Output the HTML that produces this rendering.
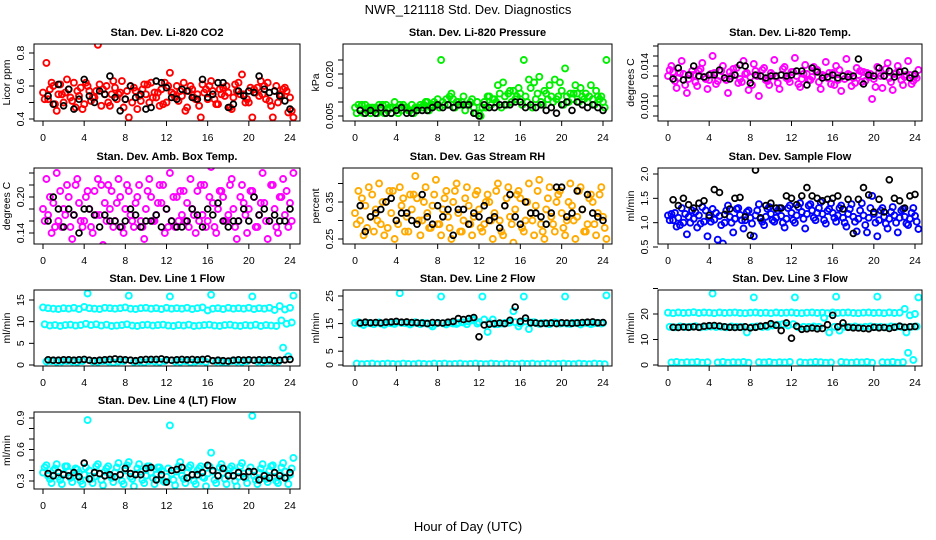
<!DOCTYPE html>
<html><head><meta charset="utf-8">
<style>
html,body{margin:0;padding:0;background:#fff;}
svg{display:block;font-family:"Liberation Sans",sans-serif;}
</style></head>
<body>
<svg id="chart" width="936" height="540" viewBox="0 0 936 540">
<text x="468" y="14" text-anchor="middle" font-size="13">NWR_121118  Std. Dev. Diagnostics</text>
<text x="468" y="531" text-anchor="middle" font-size="13">Hour of Day (UTC)</text>
</svg>
<script>
// ---- data arrays (colored series sampled every 0.5 h; three interleaved sub-series) ----
const co2A=[0.56,0.52,0.60,0.55,0.50,0.58,0.62,0.54,0.49,0.57,0.53,0.61,0.55,0.48,0.59,0.56,0.52,0.60,0.57,0.51,0.55,0.62,0.53,0.58,0.50,0.56,0.60,0.54,0.47,0.58,0.55,0.61,0.52,0.57,0.49,0.59,0.56,0.53,0.62,0.55,0.50,0.58,0.54,0.60,0.51,0.57,0.55,0.59,0.53];
const co2B=[0.52,0.58,0.49,0.61,0.56,0.53,0.47,0.59,0.62,0.51,0.57,0.48,0.60,0.55,0.52,0.63,0.57,0.50,0.46,0.58,0.61,0.53,0.56,0.49,0.60,0.55,0.51,0.62,0.57,0.53,0.48,0.56,0.60,0.52,0.58,0.54,0.47,0.61,0.55,0.50,0.59,0.56,0.63,0.52,0.48,0.60,0.54,0.57,0.45];
const co2C=[0.74,0.62,0.45,0.55,0.64,0.51,0.57,0.46,0.60,0.53,0.85,0.58,0.50,0.63,0.55,0.47,0.41,0.59,0.54,0.61,0.50,0.56,0.48,0.62,0.68,0.53,0.57,0.45,0.60,0.52,0.41,0.58,0.63,0.49,0.55,0.60,0.46,0.57,0.67,0.52,0.41,0.59,0.55,0.62,0.41,0.50,0.58,0.44,0.41];
const co2K=[0.54,0.49,0.61,0.48,0.58,0.46,0.52,0.64,0.54,0.50,0.57,0.55,0.66,0.53,0.45,0.52,0.60,0.53,0.55,0.46,0.47,0.63,0.62,0.59,0.53,0.52,0.58,0.57,0.53,0.52,0.64,0.53,0.55,0.62,0.62,0.47,0.49,0.57,0.54,0.57,0.56,0.66,0.58,0.56,0.57,0.54,0.51,0.46];

const prA=[.008,.007,.009,.006,.008,.007,.009,.006,.008,.007,.008,.009,.007,.008,.010,.009,.011,.010,.009,.011,.010,.012,.009,.008,.006,.010,.012,.011,.013,.012,.014,.011,.013,.012,.015,.011,.010,.013,.012,.011,.014,.012,.011,.013,.012,.010,.011,.012,.010];
const prB=[.006,.009,.007,.008,.006,.009,.007,.008,.006,.009,.007,.006,.008,.009,.007,.010,.008,.009,.012,.008,.009,.007,.010,.006,.005,.008,.009,.010,.008,.009,.010,.012,.009,.010,.008,.013,.009,.011,.010,.012,.009,.010,.013,.010,.011,.012,.009,.011,.008];
const prC=[.009,.006,.008,.007,.009,.006,.008,.010,.009,.008,.007,.008,.009,.010,.008,.009,.025,.011,.013,.010,.010,.009,.011,.010,.008,.012,.011,.016,.017,.013,.014,.015,.025,.018,.017,.019,.014,.016,.018,.017,.022,.013,.016,.015,.013,.016,.014,.012,.025];
const prK=[.007,.006,.007,.006,.008,.006,.006,.007,.008,.006,.006,.007,.007,.007,.008,.009,.008,.009,.008,.009,.009,.009,.006,.005,.009,.008,.008,.009,.009,.009,.010,.010,.008,.009,.008,.009,.007,.008,.006,.009,.010,.007,.010,.009,.008,.009,.008,.007];

const ltA=[.0130,.0134,.0128,.0132,.0127,.0131,.0135,.0129,.0126,.0133,.0130,.0128,.0134,.0131,.0127,.0132,.0129,.0135,.0130,.0126,.0133,.0129,.0131,.0128,.0134,.0130,.0127,.0132,.0129,.0136,.0131,.0128,.0133,.0126,.0130,.0132,.0128,.0131,.0134,.0129,.0127,.0133,.0130,.0128,.0132,.0135,.0129,.0131,.0130];
const ltB=[.0136,.0125,.0133,.0121,.0131,.0124,.0137,.0127,.0132,.0122,.0135,.0126,.0130,.0138,.0124,.0133,.0121,.0130,.0136,.0125,.0131,.0123,.0137,.0127,.0134,.0122,.0132,.0126,.0139,.0124,.0130,.0133,.0121,.0136,.0127,.0131,.0123,.0135,.0125,.0132,.0119,.0130,.0137,.0124,.0133,.0126,.0131,.0122,.0128];
const ltC=[.0140,.0118,.0145,.0113,.0135,.0120,.0143,.0117,.0150,.0125,.0140,.0113,.0137,.0123,.0145,.0116,.0142,.0110,.0138,.0121,.0146,.0117,.0139,.0124,.0148,.0119,.0141,.0126,.0136,.0117,.0144,.0122,.0140,.0115,.0147,.0120,.0138,.0124,.0133,.0107,.0139,.0118,.0143,.0116,.0140,.0121,.0145,.0125,.0136];
const ltK=[.0127,.0138,.0126,.0131,.0140,.0130,.0129,.0131,.0131,.0136,.0128,.0127,.0131,.0141,.0140,.0123,.0131,.0130,.0128,.0130,.0130,.0131,.0130,.0131,.0135,.0135,.0121,.0138,.0134,.0128,.0129,.0131,.0128,.0130,.0129,.0130,.0147,.0122,.0131,.0130,.0138,.0130,.0135,.0129,.0134,.0135,.0128,.0132];

const abA=[.18,.17,.19,.16,.18,.20,.17,.19,.16,.18,.21,.17,.19,.18,.16,.20,.18,.17,.19,.16,.18,.20,.17,.19,.18,.16,.20,.17,.19,.18,.21,.17,.16,.19,.18,.20,.17,.18,.16,.19,.18,.20,.17,.19,.16,.18,.20,.17,.19];
const abB=[.16,.20,.15,.21,.17,.15,.22,.16,.20,.15,.17,.22,.16,.21,.19,.15,.22,.16,.20,.15,.21,.16,.19,.22,.15,.20,.16,.21,.15,.17,.16,.22,.20,.15,.21,.16,.22,.15,.20,.17,.21,.15,.19,.16,.22,.15,.20,.21,.16];
const abC=[.23,.14,.24,.15,.22,.13,.23,.15,.21,.14,.23,.12,.22,.15,.23,.14,.21,.15,.22,.13,.23,.16,.22,.14,.24,.15,.21,.16,.23,.14,.22,.15,.25,.14,.21,.16,.23,.13,.22,.14,.21,.15,.24,.13,.22,.14,.23,.15,.24];
const abK=[.16,.20,.18,.15,.18,.17,.14,.18,.18,.17,.15,.17,.16,.16,.15,.16,.18,.17,.15,.16,.16,.17,.15,.18,.16,.15,.15,.16,.18,.17,.15,.18,.17,.19,.16,.15,.16,.16,.18,.16,.20,.17,.18,.16,.17,.16,.16,.18];

const rhA=[.32,.30,.34,.31,.33,.29,.35,.32,.30,.34,.31,.33,.36,.30,.32,.34,.29,.33,.31,.35,.32,.30,.34,.31,.33,.29,.35,.32,.30,.34,.31,.33,.36,.30,.32,.34,.29,.33,.31,.35,.32,.30,.34,.31,.33,.29,.35,.32,.31];
const rhB=[.29,.36,.28,.37,.30,.35,.28,.38,.29,.36,.27,.37,.30,.35,.28,.37,.29,.36,.28,.38,.27,.36,.29,.37,.28,.35,.30,.38,.27,.36,.29,.37,.28,.35,.30,.38,.27,.36,.29,.37,.28,.35,.30,.38,.27,.36,.29,.37,.28];
const rhC=[.38,.26,.39,.27,.40,.26,.38,.25,.39,.27,.37,.42,.26,.39,.28,.41,.26,.38,.25,.40,.27,.39,.26,.38,.27,.37,.25,.40,.26,.39,.24,.38,.27,.40,.26,.41,.25,.39,.27,.38,.26,.40,.25,.39,.27,.37,.26,.39,.25];
const rhK=[.34,.27,.31,.32,.33,.35,.36,.30,.32,.32,.30,.29,.37,.31,.29,.34,.31,.33,.26,.33,.33,.29,.32,.31,.34,.30,.31,.28,.34,.37,.31,.29,.35,.32,.32,.31,.29,.32,.39,.39,.31,.32,.38,.33,.37,.32,.31,.30];

const sfA=[1.15,1.05,1.10,1.00,1.12,1.08,1.15,1.02,1.10,1.06,1.14,1.00,1.12,1.08,1.16,1.05,1.10,1.15,1.08,1.12,1.18,1.10,1.14,1.08,1.20,1.15,1.22,1.18,1.25,1.20,1.18,1.24,1.20,1.15,1.10,1.18,1.12,1.08,1.15,1.10,1.18,1.05,1.12,1.08,1.15,1.10,1.12,1.08,1.14];
const sfB=[1.05,1.20,0.95,1.18,1.00,1.22,0.98,1.25,1.02,1.20,0.95,1.25,1.00,1.28,1.05,1.22,0.98,1.25,1.02,1.28,1.05,1.25,1.00,1.30,1.05,1.32,1.08,1.35,1.10,1.30,1.05,1.28,1.10,1.30,1.00,1.28,1.02,1.25,0.95,1.30,1.00,1.25,0.98,1.22,1.00,1.25,0.98,1.20,1.02];
const sfC=[1.18,0.92,1.30,0.76,1.25,0.90,1.32,0.72,1.28,0.65,0.57,1.35,0.80,1.30,0.88,1.25,0.72,1.38,0.95,1.32,1.02,1.30,0.90,1.35,1.00,1.40,0.88,1.38,1.05,1.42,0.98,1.40,1.02,1.35,0.92,1.38,0.82,1.40,0.80,1.55,0.72,1.30,0.88,1.32,0.80,1.28,0.95,1.30,0.87];
const sfK=[1.47,1.35,1.50,1.37,1.30,1.40,1.45,1.15,1.68,1.62,1.17,1.28,1.50,1.52,1.12,0.74,2.08,1.10,1.35,1.40,1.30,1.30,1.55,1.50,1.37,1.55,1.72,1.55,1.50,1.45,1.48,1.50,1.55,1.28,1.48,0.78,1.48,1.72,1.57,1.22,1.48,1.22,1.88,1.50,1.45,1.30,1.55,1.58];

const l1A=[13.3,13.1,13.0,12.9,13.1,13.0,13.2,12.9,13.4,13.1,13.0,12.9,13.2,13.1,13.0,13.1,13.3,13.0,12.9,13.1,13.2,13.0,13.1,12.9,13.2,13.0,13.1,13.0,13.2,12.9,13.1,13.3,12.6,13.0,13.1,12.9,13.2,13.0,13.1,13.0,13.2,12.9,13.1,13.0,13.2,12.7,13.6,12.8,13.2];
const l1B=[9.4,9.1,9.2,9.0,9.2,9.3,9.1,9.2,9.5,9.2,9.4,9.1,9.3,9.0,9.1,9.2,9.4,9.1,9.0,9.2,9.3,9.1,9.2,9.3,9.1,9.0,9.2,9.1,9.3,9.0,9.1,9.2,9.3,9.1,9.0,9.2,9.3,9.1,9.0,9.2,9.1,9.3,9.0,9.2,9.1,9.0,10.3,9.5,9.8];
const l1C=[0.8,0.9,0.7,0.8,0.9,0.8,0.7,0.9,16.5,0.8,0.7,0.9,0.8,0.6,0.8,0.9,16.0,0.7,0.8,0.6,0.9,0.8,0.7,0.9,15.8,0.8,0.7,0.9,0.6,0.8,0.9,0.7,16.2,0.8,0.7,0.5,0.9,0.8,0.7,0.9,15.8,0.8,0.7,0.9,0.8,0.7,4.0,2.0,16.0];
const l1K=[1.2,1.1,1.1,1.2,1.2,1.1,1.2,1.3,1.1,1.0,1.1,1.2,1.3,1.4,1.3,1.2,1.1,1.0,1.2,1.3,1.3,1.3,1.4,1.2,1.1,1.2,1.3,1.2,1.3,1.2,1.3,1.4,1.0,1.1,1.0,0.9,1.1,1.2,1.1,1.2,1.1,1.2,1.1,1.2,1.0,1.1,1.2,1.3];

const l2A=[15.2,15.0,15.3,15.1,15.2,15.0,15.3,15.1,15.4,15.2,15.1,15.0,15.2,15.3,15.1,14.0,15.2,15.1,15.3,15.0,15.2,15.4,15.8,16.2,15.5,16.5,15.3,14.8,15.0,15.2,15.4,15.5,15.0,15.8,15.4,15.2,15.1,15.0,15.2,15.3,15.1,15.0,15.2,15.3,15.1,15.2,15.0,15.3,15.2];
const l2B=[0.5,0.3,0.4,0.5,0.3,0.4,0.5,0.4,0.3,0.5,0.4,0.3,0.5,0.4,0.3,0.5,0.4,0.5,0.3,0.4,0.5,0.3,0.4,0.5,0.4,0.3,0.5,0.4,0.3,0.5,0.4,0.3,0.5,0.4,0.5,0.3,0.4,0.5,0.3,0.4,0.5,0.4,0.3,0.5,0.4,0.3,0.5,0.4,0.3];
const l2C=[15.5,14.5,15.2,14.8,15.4,14.6,15.3,14.9,26.0,15.2,14.7,15.5,14.8,15.1,14.6,15.0,24.8,14.7,15.3,14.9,15.5,14.8,16.8,15.0,24.8,12.0,16.5,14.8,15.0,15.3,19.5,14.0,24.8,13.0,15.5,14.9,15.2,14.8,15.4,15.0,24.8,14.9,15.2,14.7,15.3,14.8,15.2,15.0,25.2];
const l2K=[15.2,15.5,15.3,15.4,15.2,15.5,15.6,15.8,15.5,15.6,15.4,15.3,15.2,15.0,15.4,15.3,15.2,15.5,15.8,16.8,16.5,16.8,17.2,10.2,14.5,14.8,15.0,15.2,15.0,16.2,21.0,15.8,17.0,15.3,15.2,15.0,15.1,15.2,15.0,15.3,15.2,15.1,15.2,15.4,15.5,15.6,15.3,15.4];

const l3A=[20.5,20.3,20.6,20.4,20.5,20.7,20.4,20.6,20.5,20.3,20.6,20.4,20.5,20.6,20.4,20.3,20.5,20.6,20.4,20.5,20.3,20.6,20.4,20.5,20.6,20.4,20.3,20.5,20.6,20.4,20.5,20.3,20.6,20.4,20.5,20.6,20.4,20.3,20.5,20.6,20.4,20.5,20.3,20.6,20.4,20.5,22.0,19.5,20.0];
const l3B=[15.0,14.8,15.1,14.9,15.0,15.2,14.8,15.0,15.1,14.9,15.0,14.8,15.1,15.0,14.9,12.8,15.0,15.1,14.9,15.0,15.5,15.8,16.0,15.5,16.0,14.8,15.0,14.9,15.1,15.0,18.5,12.8,15.0,13.5,15.0,14.9,15.1,14.8,15.0,15.1,14.9,15.0,14.8,15.1,15.0,14.9,12.8,15.0,15.1];
const l3C=[1.0,1.2,0.9,1.1,1.0,1.2,0.9,1.1,28.0,1.0,1.2,0.9,1.1,1.0,1.2,0.9,26.5,1.1,1.0,1.2,0.9,1.1,1.0,1.2,26.5,1.1,0.9,1.0,1.2,1.1,0.9,1.0,26.8,1.2,1.0,0.9,1.1,1.0,1.2,0.9,26.8,1.1,1.0,1.2,0.9,1.1,4.8,2.0,26.5];
const l3K=[14.8,14.7,14.9,14.8,15.0,14.8,15.2,15.4,15.5,15.3,15.0,14.8,14.7,14.8,15.0,14.6,14.8,15.2,15.4,16.2,15.6,13.5,16.5,10.5,15.2,14.0,14.2,14.5,14.2,14.3,15.8,19.5,15.0,16.5,14.8,14.6,14.5,14.3,14.2,14.8,14.6,14.7,14.3,14.8,15.2,14.8,15.0,15.1];

const l4A=[.38,.35,.40,.34,.37,.39,.35,.38,.36,.40,.34,.37,.39,.35,.38,.36,.40,.34,.37,.39,.35,.38,.36,.40,.34,.37,.39,.35,.38,.36,.40,.34,.37,.39,.35,.38,.36,.40,.34,.37,.39,.35,.38,.36,.40,.34,.37,.39,.36];
const l4B=[.43,.32,.42,.31,.44,.33,.42,.30,.43,.32,.44,.31,.42,.33,.43,.30,.45,.32,.42,.31,.44,.33,.43,.30,.42,.31,.44,.32,.43,.30,.42,.33,.44,.31,.43,.32,.42,.30,.44,.33,.43,.31,.42,.32,.44,.30,.43,.33,.42];
const l4C=[.45,.28,.46,.27,.44,.29,.41,.27,.88,.28,.46,.26,.44,.29,.47,.27,.48,.25,.46,.28,.44,.27,.43,.29,.83,.26,.48,.28,.45,.27,.44,.25,.57,.28,.46,.27,.44,.25,.47,.28,.92,.27,.46,.29,.45,.28,.47,.27,.52];
const l4K=[.37,.35,.38,.36,.35,.38,.34,.47,.32,.38,.37,.35,.36,.34,.36,.42,.37,.36,.36,.42,.43,.31,.36,.29,.40,.41,.43,.33,.36,.36,.38,.45,.40,.35,.42,.35,.35,.38,.34,.39,.39,.31,.35,.33,.38,.35,.33,.38];

const xTicks=[0,4,8,12,16,20,24];
const panelTitles=["Stan. Dev. Li-820 CO2","Stan. Dev. Li-820 Pressure","Stan. Dev. Li-820 Temp.","Stan. Dev. Amb. Box Temp.","Stan. Dev. Gas Stream RH","Stan. Dev. Sample Flow","Stan. Dev. Line 1 Flow","Stan. Dev. Line 2 Flow","Stan. Dev. Line 3 Flow","Stan. Dev. Line 4 (LT) Flow"];
const yTitles=["Licor ppm","kPa","degrees C","degrees C","percent","ml/min","ml/min","ml/min","ml/min","ml/min"];
const yTickVals=[[0.4,0.5,0.6,0.7,0.8],[0.005,0.010,0.015,0.020,0.025],[0.009,0.010,0.011,0.012,0.013,0.014,0.015,0.016],[0.14,0.16,0.18,0.20,0.22,0.24],[0.25,0.30,0.35,0.40],[0.5,1.0,1.5,2.0],[0,5,10,15],[0,5,10,15,20,25],[0,10,20,30],[0.3,0.4,0.5,0.6,0.7,0.8,0.9]];
const yTickLabels=[["0.4","","0.6","","0.8"],["0.005","","","0.020",""],["","0.010","","","","0.014","",""],["0.14","","","0.20","",""],["0.25","","0.35",""],["0.5","1.0","1.5","2.0"],["0","5","10","15"],["0","5","","15","","25"],["0","10","20",""],["0.3","","","0.6","","","0.9"]];
const colorSeries=[[co2A,co2B,co2C],[prA,prB,prC],[ltA,ltB,ltC],[abA,abB,abC],[rhA,rhB,rhC],[sfA,sfB,sfC],[l1A,l1B,l1C],[l2A,l2B,l2C],[l3A,l3B,l3C],[l4A,l4B,l4C]];
const blackSeries=[co2K,prK,ltK,abK,rhK,sfK,l1K,l2K,l3K,l4K];

// ---- layout (pixels; not data) ----
const colors=["#ff0000","#00ee00","#ff00ff","#ff00ff","#ffaa00","#0000ff","#00ffff","#00ffff","#00ffff","#00ffff"];
const cols=[{l:34,r:300,x0:43,x24:290},{l:343,r:612,x0:355,x24:603},{l:658,r:922,x0:668,x24:915}];
const rows=[{t:44,b:121},{t:168,b:244},{t:290,b:366},{t:412,b:489}];
const yCal=[[0.4,119,0.8,53],[0.005,116,0.020,74],[0.010,106,0.014,66],[0.14,233,0.20,197],[0.25,239,0.35,202],[0.5,247,2.0,174],[0,365,15,300],[0,365,25,296],[0,365,20,314],[0.3,481,0.9,418]];

const NS="http://www.w3.org/2000/svg";
const svg=document.getElementById('chart');
function mk(tag,attrs,parent){const e=document.createElementNS(NS,tag);for(const k in attrs)e.setAttribute(k,attrs[k]);(parent||svg).appendChild(e);return e;}

for(let p=0;p<10;p++){
  const c=cols[p%3], r=rows[Math.floor(p/3)], cal=yCal[p];
  const xs=v=>c.x0+(c.x24-c.x0)*v/24;
  const ys=v=>cal[1]+(cal[3]-cal[1])*(v-cal[0])/(cal[2]-cal[0]);
  const g=mk('g',{});
  
  
  const cp=mk('clipPath',{id:'cp'+p},g);
  mk('rect',{x:c.l,y:r.t,width:c.r-c.l,height:r.b-r.t},cp);
  const t=mk('text',{x:(c.l+c.r)/2,y:r.t-8,'text-anchor':'middle','font-size':'11','font-weight':'bold'},g);
  t.textContent=panelTitles[p];
  
  
  const pts=mk('g',{'clip-path':'url(#cp'+p+')',fill:'none'},g);
  
  
  colorSeries[p].forEach((arr,si)=>{
    arr.forEach((v,i)=>{
      const pt=mk('circle',{cx:xs(i*0.5+si/6).toFixed(1),cy:ys(v).toFixed(1),r:3,stroke:colors[p],'stroke-width':1.9},pts);
      
      
    });
  });
  blackSeries[p].forEach((v,i)=>{
    const pt=mk('circle',{cx:xs(0.5+i*0.5).toFixed(1),cy:ys(v).toFixed(1),r:2.9,stroke:'#000','stroke-width':1.8},pts);
    
    
  });
  const box=mk('rect',{x:c.l,y:r.t,width:c.r-c.l,height:r.b-r.t,fill:'none',stroke:'#000','stroke-width':1},g);
  
  
  xTicks.forEach(v=>{
    mk('line',{x1:xs(v),x2:xs(v),y1:r.b,y2:r.b+5,stroke:'#000'},g);
    const tl=mk('text',{x:xs(v),y:r.b+20,'text-anchor':'middle','font-size':'10.5'},g);
    tl.textContent=v;
    
    
  });
  yTickVals[p].forEach((v,i)=>{
    const y=ys(v);
    mk('line',{x1:c.l-5,x2:c.l,y1:y,y2:y,stroke:'#000'},g);
    const lab=yTickLabels[p][i];
    if(lab){
      const tl=mk('text',{x:c.l-10,y:y,'text-anchor':'middle','font-size':'10.5',transform:'rotate(-90 '+(c.l-10)+' '+y+')'},g);
      tl.textContent=lab;
      
      
    }
  });
  const ym=(r.t+r.b)/2, yx=c.l-24;
  const yt=mk('text',{x:yx,y:ym,'text-anchor':'middle','font-size':'10.5',transform:'rotate(-90 '+yx+' '+ym+')'},g);
  yt.textContent=yTitles[p];
  
  
}
</script>
</body></html>
